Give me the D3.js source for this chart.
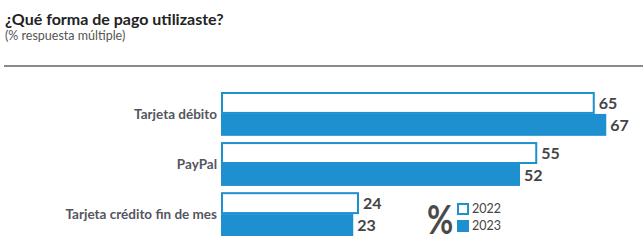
<!DOCTYPE html>
<html>
<head>
  <meta charset="utf-8">
  <title>Forma de pago</title>
  <style>
    body { margin: 0; background: #fff; }
    text { font-family: Lato, "Open Sans", sans-serif; }
  </style>
</head>
<body>
  <script src="https://d3js.org/d3.v7.min.js"></script>
  <script>
    var categories = ['Tarjeta débito', 'PayPal', 'Tarjeta crédito fin de mes'];
    var series = ['2022', '2023'];
    var values2022 = [65, 55, 24];
    var values2023 = [67, 52, 23];

    var width = 643, height = 249;
    var blue = '#1e8fcf';

    var svg = d3.select('body').append('svg')
      .attr('width', width)
      .attr('height', height);

    // titulo
    svg.append('text')
      .attr('x', 5).attr('y', 25)
      .style('font-size', '16px').style('font-weight', 'bold')
      .style('fill', '#222')
      .text('¿Qué forma de pago utilizaste?');
    svg.append('text')
      .attr('x', 5).attr('y', 40)
      .style('font-size', '12.5px').style('fill', '#555')
      .text('(% respuesta múltiple)');

    svg.append('line')
      .attr('x1', 4).attr('x2', width)
      .attr('y1', 66).attr('y2', 66)
      .style('stroke', '#8a8a8a').style('stroke-width', 2);

    // escalas
    var x = d3.scaleLinear().domain([0, 100]).range([221, 796]);
    var y = d3.scaleBand().domain(categories).range([92, 236]).paddingInner(0.125).paddingOuter(0);
    var ySub = d3.scaleBand().domain(series).range([0, y.bandwidth()]);

    var rows = categories.map(function (c, i) {
      return { cat: c, vals: [values2022[i], values2023[i]] };
    });

    var g = svg.selectAll('g.row').data(rows).enter()
      .append('g').attr('class', 'row')
      .attr('transform', function (d) { return 'translate(0,' + y(d.cat) + ')'; });

    g.append('text')
      .attr('x', 217)
      .attr('y', y.bandwidth() / 2)
      .attr('dy', '0.35em')
      .attr('text-anchor', 'end')
      .style('font-size', '13.5px').style('font-weight', 'bold').style('fill', '#555560')
      .text(function (d) { return d.cat; });

    g.selectAll('rect').data(function (d) {
      return d.vals.map(function (v, j) { return { s: series[j], v: v }; });
    }).enter().append('rect')
      .attr('x', function (d) { return d.s === '2022' ? x(0) + 1 : x(0); })
      .attr('y', function (d) { return d.s === '2022' ? ySub(d.s) + 1 : ySub(d.s); })
      .attr('width', function (d) { return d.s === '2022' ? x(d.v) - x(0) - 2 : x(d.v) - x(0); })
      .attr('height', function (d) { return d.s === '2022' ? ySub.bandwidth() - 2 : ySub.bandwidth(); })
      .style('fill', function (d) { return d.s === '2022' ? '#fff' : blue; })
      .style('stroke', function (d) { return d.s === '2022' ? blue : 'none'; })
      .style('stroke-width', 2);

    g.selectAll('text.val').data(function (d) {
      return d.vals.map(function (v, j) { return { s: series[j], v: v }; });
    }).enter().append('text')
      .attr('class', 'val')
      .attr('x', function (d) { return x(d.v) + 4; })
      .attr('y', function (d) { return ySub(d.s) + ySub.bandwidth() / 2; })
      .attr('dy', '0.36em')
      .style('font-size', '16px').style('font-weight', 'bold').style('fill', '#444')
      .text(function (d) { return d.v; });

    // leyenda
    svg.append('text')
      .attr('transform', 'translate(427,234) scale(0.8,1)')
      .style('font-size', '40px').style('font-weight', 'bold').style('fill', '#4a4a4a')
      .text('%');

    var leg = svg.selectAll('g.leg').data(series).enter()
      .append('g').attr('class', 'leg')
      .attr('transform', function (d, i) { return 'translate(457,' + (203 + i * 17) + ')'; });
    leg.append('rect')
      .attr('x', function (d) { return d === '2022' ? 1 : 0; })
      .attr('y', function (d) { return d === '2022' ? 1 : 0; })
      .attr('width', function (d) { return d === '2022' ? 10 : 12; })
      .attr('height', function (d) { return d === '2022' ? 10 : 12; })
      .style('fill', function (d) { return d === '2022' ? '#fff' : blue; })
      .style('stroke', function (d) { return d === '2022' ? blue : 'none'; })
      .style('stroke-width', 2);
    leg.append('text')
      .attr('x', 15).attr('y', 6).attr('dy', '0.35em')
      .style('font-size', '12.5px').style('fill', '#444')
      .text(function (d) { return d; });
  </script>
</body>
</html>
